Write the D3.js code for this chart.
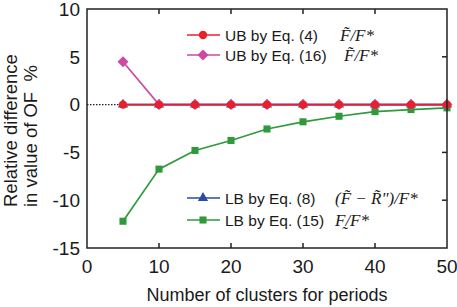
<!DOCTYPE html>
<html>
<head>
<meta charset="utf-8">
<script src="https://cdn.jsdelivr.net/npm/d3@7"></script>
<style>
  body { margin: 0; background: #fff; }
  text { font-family: "Liberation Sans", Arial, sans-serif; fill: #1a1a1a; white-space: pre; }
  .math { font-family: "Liberation Serif", "DejaVu Serif", serif; font-style: italic; }
</style>
</head>
<body>
<div id="chart"></div>
<script>
const clusters = [5, 10, 15, 20, 25, 30, 35, 40, 45, 50];
const ubEq4 = [0, 0, 0, 0, 0, 0, 0, 0, 0, 0];
const ubEq16 = [4.48, 0, 0, 0, 0, 0, 0, 0, 0, 0];
const lbEq8 = [0, 0, 0, 0, 0, 0, 0, 0, 0, 0];
const lbEq15 = [-12.2, -6.75, -4.8, -3.75, -2.55, -1.8, -1.22, -0.73, -0.52, -0.34];
const xTicks = [0, 10, 20, 30, 40, 50];
const yTicks = [10, 5, 0, -5, -10, -15];

const width = 457, height = 307;
const margin = { top: 9, right: 10, bottom: 59, left: 87 };

const svg = d3.select("#chart").append("svg")
  .attr("width", width).attr("height", height);

const x = d3.scaleLinear().domain([0, 50]).range([margin.left, width - margin.right]);
const y = d3.scaleLinear().domain([-15, 10]).range([height - margin.bottom, margin.top]);

// zero reference (dotted)
svg.append("line")
  .attr("x1", x(0)).attr("x2", x(50))
  .attr("y1", y(0)).attr("y2", y(0))
  .attr("stroke", "#222").attr("stroke-width", 1.2)
  .attr("stroke-dasharray", "1.5,1.5");

// inner ticks (bottom, top, right)
const tk = 5;
const inner = xTicks.filter(d => d > 0 && d < 50);
svg.append("g").selectAll("line").data(inner).join("line")
  .attr("x1", d => x(d)).attr("x2", d => x(d))
  .attr("y1", y(-15)).attr("y2", y(-15) - tk)
  .attr("stroke", "#222").attr("stroke-width", 1.5);
svg.append("g").selectAll("line").data(inner).join("line")
  .attr("x1", d => x(d)).attr("x2", d => x(d))
  .attr("y1", y(10)).attr("y2", y(10) + tk)
  .attr("stroke", "#222").attr("stroke-width", 1.5);
svg.append("g").selectAll("line").data(yTicks.filter(d => d > -15 && d < 10)).join("line")
  .attr("x1", x(50)).attr("x2", x(50) - tk)
  .attr("y1", d => y(d)).attr("y2", d => y(d))
  .attr("stroke", "#222").attr("stroke-width", 1.5);

// tick labels
svg.append("g").selectAll("text").data(xTicks).join("text")
  .attr("x", d => x(d)).attr("y", height - margin.bottom + 25)
  .attr("text-anchor", "middle").attr("font-size", 19)
  .text(d => d);
svg.append("g").selectAll("text").data(yTicks).join("text")
  .attr("x", margin.left - 7).attr("y", d => y(d) + 6.8)
  .attr("text-anchor", "end").attr("font-size", 19)
  .text(d => d);

// axis titles
svg.append("text")
  .attr("x", (x(0) + x(50)) / 2).attr("y", 301)
  .attr("text-anchor", "middle").attr("font-size", 18)
  .text("Number of clusters for periods");
const yt = svg.append("g").attr("transform", "translate(0,207) rotate(-90)");
yt.append("text").attr("x", 0).attr("y", 17).attr("font-size", 18.5)
  .text("Relative difference");
yt.append("text").attr("x", 0).attr("y", 37).attr("font-size", 18.5)
  .text("in value of OF  %");

const diamond = {
  draw(ctx, size) {
    const r = Math.sqrt(size / 2);
    ctx.moveTo(0, -r); ctx.lineTo(r, 0); ctx.lineTo(0, r); ctx.lineTo(-r, 0); ctx.closePath();
  }
};

const series = [
  { name: "LB by Eq. (8)", math: "(F\u0303 \u2212 R\u0303\u2033)/F*", vals: lbEq8, color: "#2b4aa8", shape: d3.symbolTriangle, size: 45 },
  { name: "LB by Eq. (15)", math: "F\u0330/F*", vals: lbEq15, color: "#2f9a3c", shape: d3.symbolSquare, size: 50 },
  { name: "UB by Eq. (16)", math: "F\u0303/F*", vals: ubEq16, color: "#cc4aa2", shape: diamond, size: 60 },
  { name: "UB by Eq. (4)", math: "F\u0303/F*", vals: ubEq4, color: "#e8202b", shape: d3.symbolCircle, size: 55 }
];

const line = d3.line().x(d => x(d[0])).y(d => y(d[1]));
series.forEach(s => {
  const pts = clusters.map((c, i) => [c, s.vals[i]]);
  svg.append("path").datum(pts)
    .attr("d", line).attr("fill", "none")
    .attr("stroke", s.color).attr("stroke-width", 1.7);
  svg.append("g").selectAll("path").data(pts).join("path")
    .attr("transform", d => `translate(${x(d[0])},${y(d[1])})`)
    .attr("d", d3.symbol().type(s.shape).size(s.size))
    .attr("fill", s.color);
});

// legend
const legendRows = [
  { s: series[3], y: 35, mx: 340 },
  { s: series[2], y: 55, mx: 344 },
  { s: series[0], y: 198, mx: 335 },
  { s: series[1], y: 220, mx: 335 }
];
legendRows.forEach(r => {
  const g = svg.append("g");
  g.append("line").attr("x1", 187).attr("x2", 220).attr("y1", r.y).attr("y2", r.y)
    .attr("stroke", r.s.color).attr("stroke-width", 1.7);
  g.append("path").attr("transform", `translate(203,${r.y})`)
    .attr("d", d3.symbol().type(r.s.shape).size(r.s.size)).attr("fill", r.s.color);
  g.append("text").attr("x", 225).attr("y", r.y + 5.5).attr("font-size", 15.5).text(r.s.name);
  g.append("text").attr("class", "math").attr("x", r.mx).attr("y", r.y + 5.5)
    .attr("font-size", 17).text(r.s.math);
});

// frame
svg.append("rect")
  .attr("x", x(0)).attr("y", y(10))
  .attr("width", x(50) - x(0)).attr("height", y(-15) - y(10))
  .attr("fill", "none").attr("stroke", "#222").attr("stroke-width", 1.5);
</script>
</body>
</html>
